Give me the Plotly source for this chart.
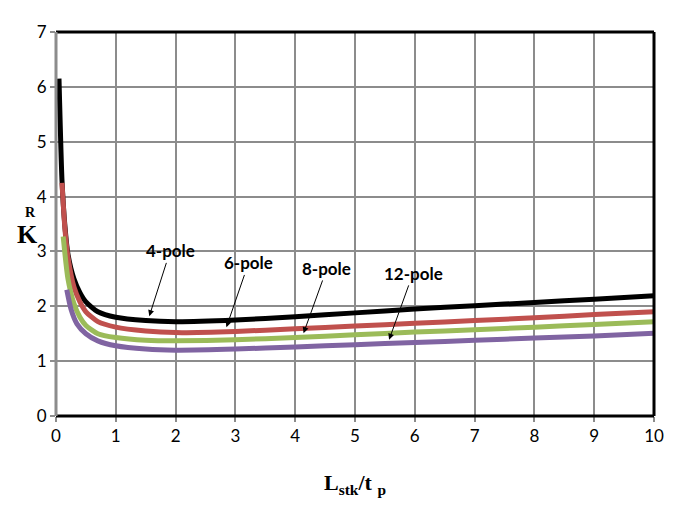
import plotly.graph_objects as go

# ---- data ----
x_4pole = [0.05, 0.1, 0.15, 0.2, 0.3, 0.4, 0.5, 0.7, 1.0, 1.5, 2, 3, 4, 5, 6, 7, 8, 9, 10]
y_4pole = [6.15, 4.3, 3.45, 2.95, 2.5, 2.25, 2.08, 1.9, 1.8, 1.74, 1.72, 1.75, 1.81, 1.88, 1.95, 2.01, 2.07, 2.13, 2.19]

x_6pole = [0.1, 0.15, 0.2, 0.3, 0.4, 0.5, 0.7, 1, 1.5, 2, 3, 4, 5, 6, 7, 8, 9, 10]
y_6pole = [4.25, 3.4, 2.9, 2.35, 2.08, 1.9, 1.72, 1.62, 1.55, 1.52, 1.54, 1.59, 1.64, 1.69, 1.74, 1.79, 1.85, 1.90]

x_8pole = [0.12, 0.2, 0.3, 0.4, 0.5, 0.7, 1, 1.5, 2, 3, 4, 5, 6, 7, 8, 9, 10]
y_8pole = [3.27, 2.5, 2.05, 1.8, 1.65, 1.5, 1.43, 1.38, 1.37, 1.39, 1.43, 1.48, 1.53, 1.57, 1.62, 1.67, 1.72]

x_12pole = [0.18, 0.25, 0.35, 0.5, 0.7, 1, 1.5, 2, 3, 4, 5, 6, 7, 8, 9, 10]
y_12pole = [2.3, 1.95, 1.68, 1.5, 1.37, 1.28, 1.22, 1.2, 1.22, 1.26, 1.3, 1.34, 1.38, 1.42, 1.46, 1.51]

# label text, arrow tip (x, y), text centre (x, y)
labels = ["4-pole", "6-pole", "8-pole", "12-pole"]
tip_x = [1.56, 2.85, 4.14, 5.57]
tip_y = [1.82, 1.62, 1.51, 1.39]
text_x = [1.91, 3.22, 4.53, 5.97]
text_y = [3.01, 2.79, 2.69, 2.60]

colors = {
    "4": "#000000",
    "6": "#C0504D",
    "8": "#9BBB59",
    "12": "#8064A2",
}

fig = go.Figure()

series = [
    (x_4pole, y_4pole, colors["4"], "4-pole"),
    (x_6pole, y_6pole, colors["6"], "6-pole"),
    (x_8pole, y_8pole, colors["8"], "8-pole"),
    (x_12pole, y_12pole, colors["12"], "12-pole"),
]
for xs, ys, c, name in series:
    fig.add_trace(go.Scatter(
        x=xs, y=ys, mode='lines', name=name,
        line=dict(color=c, width=5, shape='spline', smoothing=0.6)
    ))

for lab, tx, ty, ax, ay in zip(labels, tip_x, tip_y, text_x, text_y):
    fig.add_annotation(
        x=tx, y=ty, ax=ax, ay=ay, axref='x', ayref='y',
        text=f"<b>{lab}</b>", showarrow=True,
        arrowhead=2, arrowsize=1.2, arrowwidth=1, arrowcolor="black",
        font=dict(family="Lato, Noto Sans, sans-serif", size=17, color="black")
    )

# y-axis title: K with R above
fig.add_annotation(x=-0.047, y=0.472, xref='paper', yref='paper', showarrow=False,
                   xanchor='center', yanchor='middle',
                   text="<b>K</b>", font=dict(family="Liberation Serif", size=26, color="black"))
fig.add_annotation(x=-0.043, y=0.53, xref='paper', yref='paper', showarrow=False,
                   xanchor='center', yanchor='middle',
                   text="<b>R</b>", font=dict(family="Liberation Serif", size=14, color="black"))

# frame lines
fig.add_shape(type='line', xref='x domain', yref='y domain', x0=0, x1=1, y0=1, y1=1,
              line=dict(color='black', width=3))
fig.add_shape(type='line', xref='x domain', yref='y domain', x0=1, x1=1, y0=0, y1=1,
              line=dict(color='black', width=3))
fig.add_shape(type='line', xref='x domain', yref='y domain', x0=0, x1=1, y0=0, y1=0,
              line=dict(color='black', width=3))
fig.add_shape(type='line', xref='x domain', yref='y domain', x0=0, x1=0, y0=0, y1=1,
              line=dict(color='#8c8c8c', width=3))

# the page adds an 8px body margin, so margins are shifted to compensate
fig.update_layout(
    width=685, height=524,
    margin=dict(l=48, r=39, t=24, b=116),
    paper_bgcolor='white', plot_bgcolor='white',
    showlegend=False,
    font=dict(family="Lato, Noto Sans, sans-serif", size=17, color="black"),
)
fig.update_xaxes(
    range=[0, 10], dtick=1, showgrid=True, gridcolor='#8c8c8c', gridwidth=1.5,
    zeroline=False, ticks='outside', ticklen=5, tickcolor='#8c8c8c', tickwidth=2,
    automargin=False,
    title=dict(text="<b>L<sub>stk</sub>/t <sub>p</sub></b>",
               font=dict(family="Liberation Serif", size=22), standoff=29),
)
fig.update_yaxes(
    range=[0, 7], dtick=1, showgrid=True, gridcolor='#8c8c8c', gridwidth=1.5,
    zeroline=False, ticks='outside', ticklen=5, tickcolor='#8c8c8c', tickwidth=2,
    automargin=False,
)

fig.write_html("out.html")
